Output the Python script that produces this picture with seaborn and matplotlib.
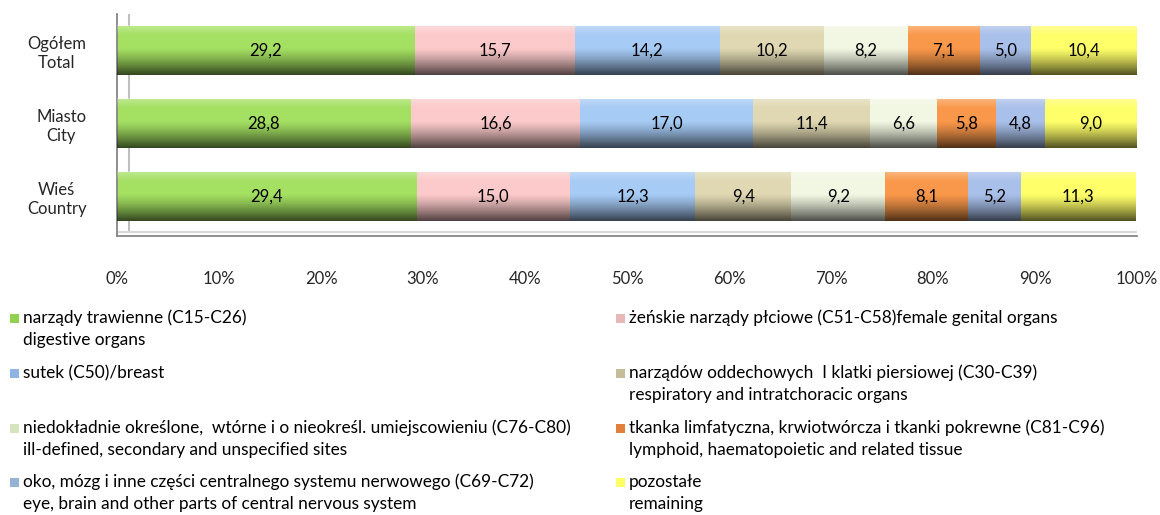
import numpy as np
import pandas as pd
import matplotlib
matplotlib.use("Agg")
import matplotlib.pyplot as plt
from matplotlib.patches import Rectangle
import seaborn as sns

# DATA
regions = ["Ogółem\nTotal", "Miasto\nCity", "Wieś\nCountry"]
digestive = [29.2, 28.8, 29.4]
female_genital = [15.7, 16.6, 15.0]
breast = [14.2, 17.0, 12.3]
respiratory = [10.2, 11.4, 9.4]
ill_defined = [8.2, 6.6, 9.2]
lymphoid = [7.1, 5.8, 8.1]
cns = [5.0, 4.8, 5.2]
remaining = [10.4, 9.0, 11.3]

series = [digestive, female_genital, breast, respiratory,
          ill_defined, lymphoid, cns, remaining]
series_labels = [
    "narządy trawienne (C15-C26)\ndigestive organs",
    "żeńskie narządy płciowe (C51-C58)female genital organs",
    "sutek (C50)/breast",
    "narządów oddechowych  I klatki piersiowej (C30-C39)\nrespiratory and intratchoracic organs",
    "niedokładnie określone,  wtórne i o nieokreśl. umiejscowieniu (C76-C80)\nill-defined, secondary and unspecified sites",
    "tkanka limfatyczna, krwiotwórcza i tkanki pokrewne (C81-C96)\nlymphoid, haematopoietic and related tissue",
    "oko, mózg i inne części centralnego systemu nerwowego (C69-C72)\neye, brain and other parts of central nervous system",
    "pozostałe\nremaining",
]
xticks = list(range(0, 101, 10))

bar_colors = ["#A4E062", "#FCCACA", "#A6CBF5", "#E0D8B2",
              "#F1F7E2", "#F9984A", "#A9C0EA", "#FFFF6A"]
legend_colors = ["#92D050", "#E6B9B8", "#8DB4E2", "#C4BD97",
                 "#D7E4BD", "#E0803C", "#95B3D7", "#FFFF66"]

sns.set_style("white")
plt.rcParams['font.family'] = ['Lato', 'DejaVu Sans']

W, H = 1160, 515
fig = plt.figure(figsize=(W / 100, H / 100), dpi=100)
ax = fig.add_axes([117 / W, 1 - 236 / H, 1020 / W, 222 / H])

df = pd.DataFrame({"region": regions})
cum = np.cumsum(np.array(series), axis=0)
for i in range(len(series) - 1, -1, -1):
    df["cum"] = cum[i]
    sns.barplot(data=df, x="cum", y="region", color=bar_colors[i],
                orient="h", width=0.68, saturation=1, linewidth=0, ax=ax, zorder=2)

# cylinder-like shading
n = 60
t = np.linspace(0, 1, n)
grad = np.zeros((n, 2, 4))
for k, tt in enumerate(t):
    if tt < 0.2:
        grad[k, :, :3] = 1.0
        grad[k, :, 3] = 0.3 * (1 - tt / 0.2)
    elif tt > 0.45:
        grad[k, :, 3] = 0.68 * ((tt - 0.45) / 0.55) ** 1.3
for j in range(len(regions)):
    ax.imshow(grad, extent=(0, cum[-1][j], j + 0.34, j - 0.34), aspect="auto",
              zorder=3, interpolation="bilinear")

for i, vals in enumerate(series):
    for j, v in enumerate(vals):
        ax.text(cum[i][j] - v / 2, j, f"{v:.1f}".replace(".", ","),
                ha="center", va="center", fontsize=12, color="black", zorder=4)

ax.set_xlim(0, 100)
ax.set_ylim(2.54, -0.5)
ax.set_xticks(xticks)
ax.set_xticklabels([f"{x}%" for x in xticks], fontsize=12)
ax.set_yticks(range(len(regions)))
ax.set_yticklabels(regions, fontsize=12, linespacing=1.2)
for lbl in ax.get_yticklabels():
    lbl.set_multialignment("center")
ax.set_yticks([-0.5, 0.5, 1.5, 2.5], minor=True)
ax.tick_params(axis="y", which="major", length=0, pad=22)
ax.tick_params(axis="y", which="minor", length=5, color="#868686", direction="out")
ax.tick_params(axis="x", length=5, color="#868686", direction="out", pad=20)
ax.set_xlabel("")
ax.set_ylabel("")
for s in ["top", "right"]:
    ax.spines[s].set_visible(False)
for s in ["left", "bottom"]:
    ax.spines[s].set_color("#868686")
    ax.spines[s].set_linewidth(1.3)
ax.axvline(1.2, ymin=0.02, ymax=1, color="#BFBFBF", lw=1.5, zorder=1)
ax.axhline(2.49, color="#D9D9D9", lw=1.5, zorder=1)

# legend
col_x = [10, 616]
row_y = [318, 373, 428, 482]
order = [(0, 0, 0), (1, 1, 0), (2, 0, 1), (3, 1, 1),
         (4, 0, 2), (5, 1, 2), (6, 0, 3), (7, 1, 3)]
for idx, col, row in order:
    x0 = col_x[col]
    y0 = row_y[row]
    fig.patches.append(Rectangle((x0 / W, 1 - (y0 + 4.5) / H), 9 / W, 9 / H,
                                 transform=fig.transFigure, facecolor=legend_colors[idx],
                                 edgecolor="none"))
    for k, line in enumerate(series_labels[idx].split("\n")):
        fig.text((x0 + 13) / W, 1 - (y0 + 22 * k) / H, line,
                 ha="left", va="center", fontsize=12.4, color="black")

fig.savefig("out.png", dpi=100)
